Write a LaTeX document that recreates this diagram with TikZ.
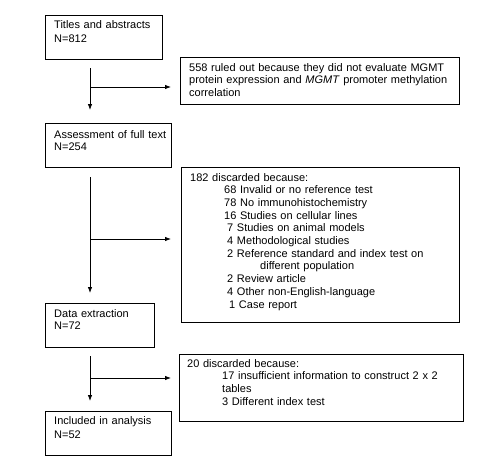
\documentclass[tikz,border=0pt]{standalone}
\usepackage{fontspec}
\setmainfont{Liberation Sans}
\usetikzlibrary{arrows.meta,positioning}

\tikzset{
  box/.style={draw,line width=0.8bp,anchor=north west,inner sep=0pt},
  txt/.style={anchor=base west,inner sep=0pt,text width=#1,align=left,font=\fontsize{11bp}{12.7bp}\selectfont},
  txt/.default=280bp,
  arr/.style={line width=0.8bp,-{Latex[length=6bp,width=4.5bp]}}
}

\begin{document}
\begin{tikzpicture}
\useasboundingbox (0bp,0bp) rectangle (492bp,-475bp);

% boxes of the main column
\node (titles) at (45bp,-15bp)[box,minimum width=117bp,minimum height=44bp] {};
\node (assess) at (45bp,-123bp)[box,minimum width=126bp,minimum height=44bp] {};
\node (extract) at (45bp,-303bp)[box,minimum width=109bp,minimum height=44bp] {};
\node (included) at (45bp,-411bp)[box,minimum width=126bp,minimum height=44bp] {};

% boxes of the side column
\node (ruled) at (180bp,-57bp)[box,minimum width=279bp,minimum height=47bp] {};
\node (disc182) at (181bp,-167bp)[box,minimum width=278bp,minimum height=155bp] {};
\node (disc20) at (179bp,-354bp)[box,minimum width=284bp,minimum height=67bp] {};

% texts
\node (titlestxt) at (54bp,-28bp)[txt=110bp] {Titles and abstracts\\[2bp]N=812};
\node (assesstxt) at (54bp,-138bp)[txt=120bp] {Assessment of full text\\N=254};
\node (extracttxt) at (54bp,-317bp)[txt=100bp] {Data extraction\\N=72};
\node (includedtxt) at (54bp,-424bp)[txt=120bp] {Included in analysis\\[2bp]N=52};
\node (ruledtxt) at (189bp,-71bp)[txt] {558 ruled out because they did not evaluate MGMT\\
  protein expression and \textit{MGMT} promoter methylation\\correlation};
\node (disc182txt) at (190bp,-181bp)[txt=265bp] {182 discarded because:\\
  \hspace*{34bp}68 Invalid or no reference test\\
  \hspace*{34bp}78 No immunohistochemistry\\
  \hspace*{34bp}16 Studies on cellular lines\\
  \hspace*{37bp}7 Studies on animal models\\
  \hspace*{37bp}4 Methodological studies\\
  \hspace*{37bp}2 Reference standard and index test on\\
  \hspace*{70bp}different population\\
  \hspace*{37bp}2 Review article\\
  \hspace*{37bp}4 Other non-English-language\\
  \hspace*{39bp}1 Case report};
\node (disc20txt) at (187bp,-367bp)[txt] {20 discarded because:\\
  \hspace*{35bp}17 insufficient information to construct 2 x 2\\
  \hspace*{35bp}tables\\
  \hspace*{35bp}3 Different index test};

% connectors
\coordinate (s1) at (90bp,-68bp);
\coordinate (j1) at (90bp,-87bp);
\coordinate (e1) at (90bp,-110bp);
\coordinate (r1) at (171bp,-87bp);
\coordinate (s2) at (90bp,-177bp);
\coordinate (j2) at (90bp,-239bp);
\coordinate (e2) at (90bp,-293bp);
\coordinate (r2) at (171bp,-239bp);
\coordinate (s3) at (90bp,-356bp);
\coordinate (j3) at (90bp,-378bp);
\coordinate (e3) at (90bp,-401bp);
\coordinate (r3) at (171bp,-378bp);
\draw [arr] (s1) -- (e1);
\draw [arr] (j1) -- (r1);
\draw [arr] (s2) -- (e2);
\draw [arr] (j2) -- (r2);
\draw [arr] (s3) -- (e3);
\draw [arr] (j3) -- (r3);
\end{tikzpicture}
\end{document}
